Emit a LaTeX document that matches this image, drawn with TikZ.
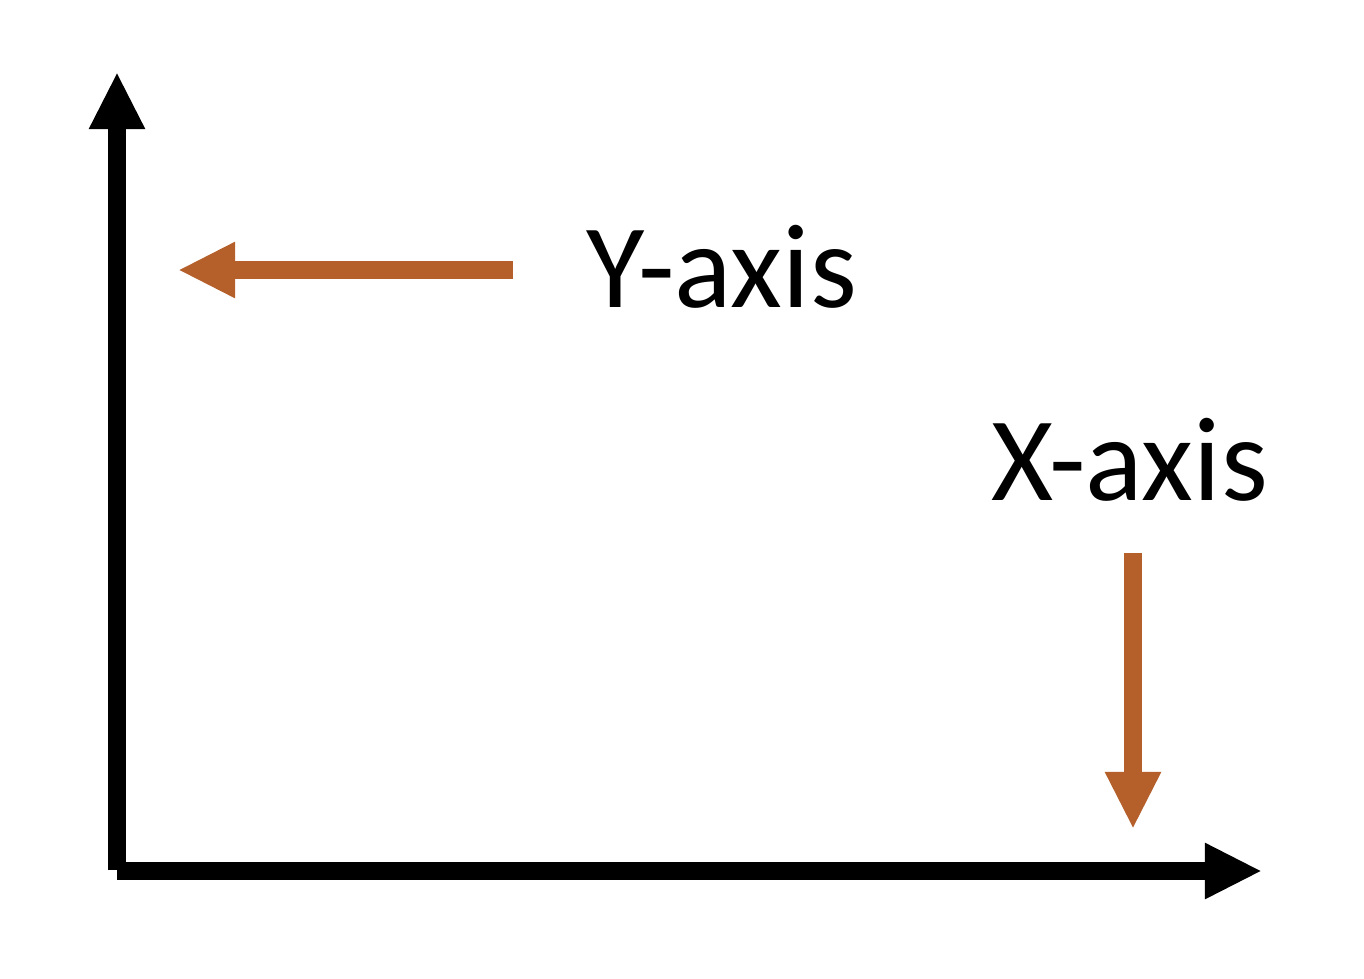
\documentclass[tikz,border=0pt]{standalone}
\usepackage{fontspec}
\setmainfont{Carlito}
\usetikzlibrary{arrows.meta}
\definecolor{rust}{RGB}{181,96,43}
\begin{document}
\begin{tikzpicture}[x=0.01cm,y=-0.01cm,
  axisarrow/.style={line width=1.8mm,-{Triangle[length=5.7mm,width=5.2mm]}},
  label/.style={inner sep=0pt,anchor=base west,font=\fontsize{34}{40}\selectfont}]
\useasboundingbox (0,0) rectangle (1364,978);
% axes
\coordinate (O) at (117,871);
\coordinate (ytip) at (117,72);
\coordinate (xtip) at (1262,871);
\draw[axisarrow] (117,870) -- (ytip);
\draw[axisarrow] (O) -- (xtip);
% labels
\node[label] (ylabel) at (586,307) {Y-axis};
\node[label] (xlabel) at (991,500) {X-axis};
\coordinate (ystart) at (513,270);
\coordinate (yend) at (178,270);
\coordinate (xstart) at (1133,553);
\coordinate (xend) at (1133,829);
\draw[axisarrow,color=rust] (ystart) -- (yend);
\draw[axisarrow,color=rust] (xstart) -- (xend);
\end{tikzpicture}
\end{document}
